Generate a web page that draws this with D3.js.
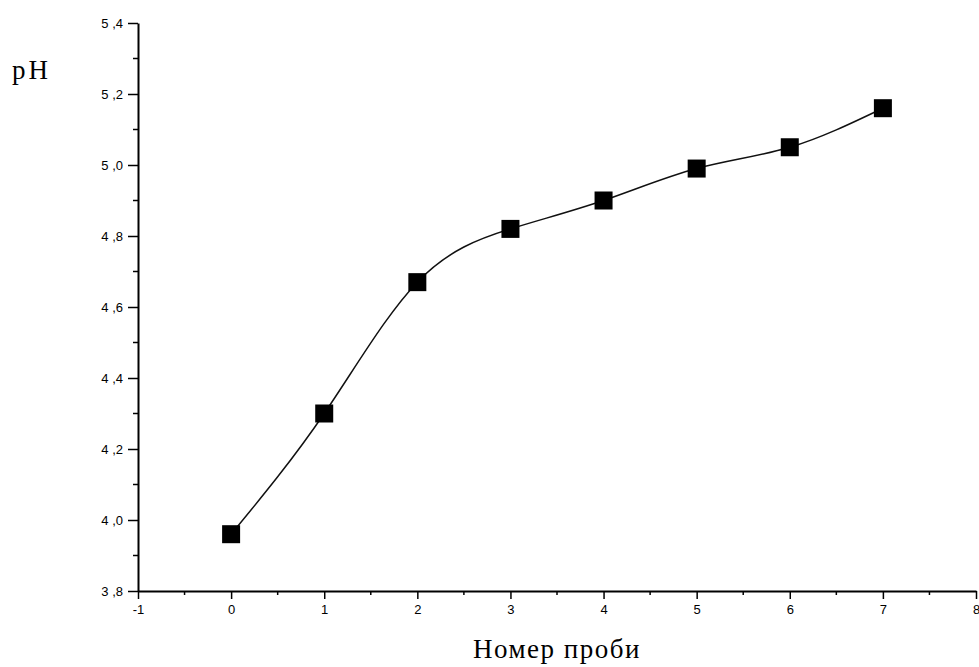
<!DOCTYPE html>
<html lang="uk">
<head>
  <meta charset="UTF-8">
  <title>pH</title>
  <script src="https://d3js.org/d3.v7.min.js"></script>
  <style>
    body { margin: 0; background: #fff; }
    .tick text { font-family: "Liberation Sans", Arial, sans-serif; font-size: 13px; fill: #000; }
    .title { font-family: "Liberation Serif", "DejaVu Serif", serif; font-size: 27px; fill: #000; }
  </style>
</head>
<body>
<div id="chart"></div>
<script>
  // samples and measured pH
  const sampleNo = [0, 1, 2, 3, 4, 5, 6, 7];
  const phValues = [3.96, 4.30, 4.67, 4.82, 4.90, 4.99, 5.05, 5.16];
  const xTicks = [-1, 0, 1, 2, 3, 4, 5, 6, 7, 8];
  const yTicks = [3.8, 4.0, 4.2, 4.4, 4.6, 4.8, 5.0, 5.2, 5.4];

  const W = 979, H = 667;
  const margin = {left: 138, right: 3, top: 23, bottom: 76};

  const svg = d3.select("#chart").append("svg")
    .attr("width", W).attr("height", H);

  const x = d3.scaleLinear().domain([-1, 8]).range([margin.left, W - margin.right]);
  const y = d3.scaleLinear().domain([3.8, 5.4]).range([H - margin.bottom, margin.top]);

  const comma = v => d3.format(".1f")(v).replace(".", " ,");

  // minor ticks first
  const xMinor = d3.range(-0.5, 8, 1);
  const yMinor = d3.range(3.9, 5.4, 0.2);
  svg.append("g").selectAll("line").data(xMinor).join("line")
    .attr("x1", d => x(d)).attr("x2", d => x(d))
    .attr("y1", y(3.8)).attr("y2", y(3.8) + 4)
    .attr("stroke", "#000").attr("stroke-width", 1.5);
  svg.append("g").selectAll("line").data(yMinor).join("line")
    .attr("y1", d => y(d)).attr("y2", d => y(d))
    .attr("x1", x(-1)).attr("x2", x(-1) - 5)
    .attr("stroke", "#000").attr("stroke-width", 1.5);

  const xAxis = svg.append("g")
    .attr("transform", `translate(0,${y(3.8)})`)
    .call(d3.axisBottom(x).tickValues(xTicks).tickSize(8).tickPadding(6).tickSizeOuter(0).tickFormat(d => String(d)));
  const yAxis = svg.append("g")
    .attr("transform", `translate(${x(-1)},0)`)
    .call(d3.axisLeft(y).tickValues(yTicks).tickSize(10).tickPadding(5).tickSizeOuter(0).tickFormat(comma));

  [xAxis, yAxis].forEach(g => {
    g.select(".domain").attr("stroke", "#000").attr("stroke-width", 2);
    g.selectAll(".tick line").attr("stroke", "#000").attr("stroke-width", 1.5);
  });

  // smooth connecting line
  const line = d3.line()
    .x((d, i) => x(sampleNo[i]))
    .y(d => y(d))
    .curve(d3.curveNatural);
  svg.append("path")
    .datum(phValues)
    .attr("d", line)
    .attr("fill", "none")
    .attr("stroke", "#111")
    .attr("stroke-width", 1.5);

  // square markers
  const s = 18;
  svg.append("g").selectAll("rect").data(phValues).join("rect")
    .attr("x", (d, i) => x(sampleNo[i]) - s / 2)
    .attr("y", d => y(d) - s / 2)
    .attr("width", s).attr("height", s)
    .attr("fill", "#000");

  // titles
  svg.append("text").attr("class", "title")
    .attr("x", 12).attr("y", 79)
    .attr("letter-spacing", 3)
    .text("pH");
  svg.append("text").attr("class", "title")
    .attr("x", (x(-1) + x(8)) / 2).attr("y", 658)
    .attr("text-anchor", "middle")
    .attr("letter-spacing", 1.5)
    .text("Номер проби");
</script>
</body>
</html>
